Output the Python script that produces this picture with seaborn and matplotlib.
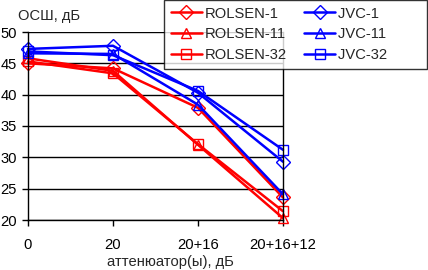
import matplotlib
matplotlib.use("Agg")
import matplotlib.pyplot as plt
import seaborn as sns
import pandas as pd

# ── данные ──────────────────────────────────────────────
categories = ["0", "20", "20+16", "20+16+12"]
series_names = ["ROLSEN-1", "ROLSEN-11", "ROLSEN-32", "JVC-1", "JVC-11", "JVC-32"]
rolsen_1 = [45.0, 44.2, 37.9, 23.6]
rolsen_11 = [45.8, 43.8, 32.0, 20.3]
rolsen_32 = [45.3, 43.4, 32.1, 21.4]
jvc_1 = [47.3, 47.8, 40.3, 29.3]
jvc_11 = [46.6, 46.5, 38.4, 24.1]
jvc_32 = [46.9, 46.3, 40.6, 31.2]

values = [rolsen_1, rolsen_11, rolsen_32, jvc_1, jvc_11, jvc_32]
rows = []
for name, vals in zip(series_names, values):
    for i, v in enumerate(vals):
        rows.append({"x": i, "snr": v, "series": name})
df = pd.DataFrame(rows)

sns.set_theme(style="white")
plt.rcParams["font.family"] = ["Liberation Sans", "DejaVu Sans"]
FS = 10.6

palette = {n: ("#ff0000" if n.startswith("ROLSEN") else "#0000ff") for n in series_names}
markers = {"ROLSEN-1": "D", "ROLSEN-11": "^", "ROLSEN-32": "s",
           "JVC-1": "D", "JVC-11": "^", "JVC-32": "s"}

fig = plt.figure(figsize=(4.28, 2.70), dpi=100)
ax = fig.add_axes([28 / 428, 1 - 220 / 270, 255 / 428, 188 / 270])

sns.lineplot(data=df, x="x", y="snr", hue="series", style="series",
             hue_order=series_names, style_order=series_names,
             palette=palette, markers=markers, dashes=False,
             linewidth=1.8, markersize=7, markerfacecolor="none",
             markeredgewidth=1.0, ax=ax, clip_on=False, legend=True)
for ln in ax.lines:
    ln.set_markerfacecolor("none")
    ln.set_markeredgecolor(ln.get_color())

ax.set_xlim(0, 3)
ax.set_ylim(20, 50)
ax.set_xticks(range(len(categories)))
ax.set_xticklabels(categories)
ax.set_yticks(range(20, 51, 5))
ax.set_xlabel("")
ax.set_ylabel("")
ax.grid(axis="y", color="black", linewidth=1.0)
ax.set_axisbelow(True)
for side in ["left", "bottom", "right"]:
    ax.spines[side].set_color("black")
    ax.spines[side].set_linewidth(1.0)
ax.spines["top"].set_visible(False)
ax.tick_params(axis="both", direction="out", length=4, width=1.0,
               colors="black", labelsize=FS)
ax.tick_params(axis="x", pad=9)
ax.tick_params(axis="y", pad=4)
ax.tick_params(left=True, bottom=True)

handles, labels = ax.get_legend_handles_labels()
for h in handles:
    h.set_markerfacecolor("none")
    h.set_markeredgecolor(h.get_color())
    h.set_markersize(7.5)
labels = [l if l.startswith("ROLSEN") else l + "        " for l in labels]
leg = ax.legend(handles, labels, ncol=2, loc="upper right",
                bbox_to_anchor=(427 / 428, 1.0), bbox_transform=fig.transFigure,
                frameon=True, fancybox=False, fontsize=FS,
                handlelength=2.1, handletextpad=0.2, columnspacing=1.2,
                labelspacing=0.45, borderpad=0.45, borderaxespad=0)
leg.get_frame().set_edgecolor("black")
leg.get_frame().set_linewidth(1.0)

fig.text(18 / 428, 1 - 16 / 270, "ОСШ, дБ", ha="left", va="center", fontsize=FS)
fig.text(170 / 428, 1 - 262 / 270, "аттенюатор(ы), дБ", ha="center", va="center", fontsize=FS)

fig.savefig("out.png", dpi=100)
